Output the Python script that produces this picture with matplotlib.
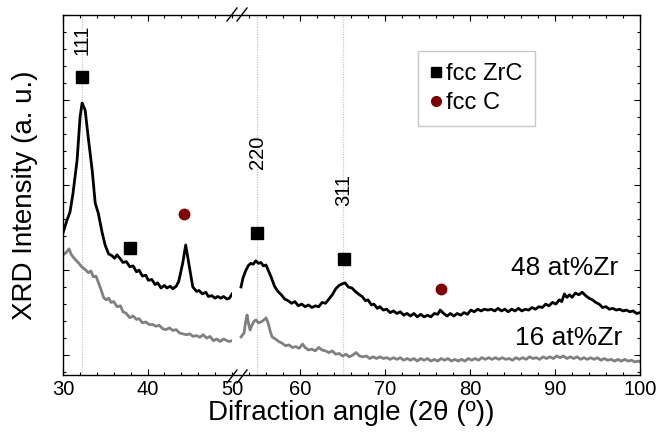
import matplotlib
matplotlib.use("Agg")
import matplotlib.pyplot as plt
from matplotlib.ticker import MultipleLocator
from matplotlib.lines import Line2D

plt.rcParams['font.family'] = ['Liberation Sans', 'DejaVu Sans']

# 48 at%Zr, left part (30-50)
x48_a = [30.0, 30.48, 30.83, 31.19, 31.67, 32.02, 32.26, 32.62, 32.98, 33.45, 33.81, 34.17,
         34.64, 35.0, 35.4, 35.8, 36.1, 36.4, 36.8, 37.1, 37.5, 37.9, 38.3, 38.7, 39.0, 39.4,
         39.8, 40.1, 40.5, 40.9, 41.2, 41.6, 42.0, 42.3, 42.7, 43.0, 43.4, 43.7, 44.17, 44.52,
         44.88, 45.36, 45.8, 46.1, 46.5, 46.9, 47.2, 47.6, 48.0, 48.3, 48.7, 49.0, 49.4, 49.7, 50.0]
y48_a = [8.24, 9.0, 9.47, 10.59, 12.53, 15.06, 15.88, 15.47, 13.88, 11.94, 10.0, 9.41,
         8.24, 7.5, 7.0, 6.9, 6.75, 6.95, 6.7, 6.5, 6.55, 6.25, 6.3, 5.95, 6.05, 5.7,
         5.75, 5.45, 5.5, 5.2, 5.3, 5.0, 5.15, 5.0, 5.1, 4.95, 5.1, 5.4, 6.47, 7.53,
         6.47, 5.06, 4.8, 4.85, 4.65, 4.75, 4.5, 4.55, 4.4, 4.5, 4.4, 4.5, 4.35, 4.4, 4.65]

# 48 at%Zr, right part (52-100)
x48_b = [53.06, 53.3, 53.6, 53.9, 54.2, 54.5, 54.8, 55.1, 55.4, 55.7, 56.0, 56.3, 56.6,
         57.0, 57.4, 57.8, 58.2, 58.6, 59.0, 59.4, 59.8, 60.2, 60.6, 61.0, 61.4, 61.8, 62.2,
         62.6, 63.0, 63.4, 63.8, 64.2, 64.6, 65.0, 65.3, 65.7, 66.1, 66.4, 66.6, 67.0, 67.3,
         67.7, 68.0, 68.4, 68.7, 69.1, 69.4, 69.8, 70.2, 70.6, 71.0, 71.4, 71.8, 72.2, 72.6,
         73.0, 73.4, 73.8, 74.2, 74.6, 75.0, 75.4, 75.8, 76.2, 76.5, 76.9, 77.3, 77.7, 78.1,
         78.5, 78.9, 79.3, 79.7, 80.1, 80.5, 80.9, 81.3, 81.7, 82.1, 82.5, 82.9, 83.3, 83.7,
         84.1, 84.5, 84.9, 85.3, 85.7, 86.1, 86.5, 86.9, 87.3, 87.7, 88.1, 88.5, 88.9, 89.3,
         89.7, 90.1, 90.5, 90.8, 91.1, 91.4, 91.7, 92.0, 92.4, 92.8, 93.2, 93.6, 94.0, 94.4,
         94.8, 95.2, 95.6, 96.0, 96.4, 96.8, 97.2, 97.6, 98.0, 98.4, 98.8, 99.2, 99.6, 100.0]
y48_b = [5.06, 5.6, 6.0, 6.3, 6.45, 6.4, 6.6, 6.45, 6.5, 6.3, 6.35, 6.0, 5.65,
         5.1, 4.8, 4.6, 4.35, 4.25, 4.1, 4.2, 3.95, 4.05, 3.9, 4.0, 3.85, 3.95, 3.9,
         4.15, 4.1, 4.35, 4.6, 4.95, 5.15, 5.25, 5.3, 5.05, 5.0, 4.85, 4.76, 4.6, 4.5,
         4.25, 4.3, 4.0, 4.05, 3.8, 3.9, 3.7, 3.75, 3.55, 3.65, 3.5, 3.6, 3.4, 3.5,
         3.35, 3.5, 3.3, 3.45, 3.3, 3.4, 3.3, 3.5, 3.45, 3.7, 3.5, 3.35, 3.5, 3.35,
         3.5, 3.4, 3.55, 3.45, 3.7, 3.6, 3.75, 3.65, 3.75, 3.7, 3.75, 3.65, 3.8, 3.65,
         3.75, 3.6, 3.75, 3.65, 3.8, 3.65, 3.75, 3.7, 3.85, 3.75, 3.9, 3.85, 4.05, 3.95,
         4.15, 4.05, 4.3, 4.2, 4.65, 4.45, 4.6, 4.45, 4.7, 4.6, 4.75, 4.55, 4.4, 4.3,
         4.15, 4.05, 3.85, 3.9, 3.75, 3.8, 3.7, 3.75, 3.65, 3.7, 3.6, 3.65, 3.5, 3.55]

# 16 at%Zr, left part
x16_a = [30.0, 30.4, 30.71, 31.0, 31.4, 31.8, 32.2, 32.6, 33.0, 33.3, 33.6, 33.9, 34.17,
         34.5, 34.8, 35.1, 35.4, 35.7, 36.0, 36.4, 36.8, 37.1, 37.5, 37.9, 38.3, 38.7, 39.0,
         39.4, 39.8, 40.2, 40.6, 41.0, 41.4, 41.8, 42.2, 42.6, 43.0, 43.4, 43.8, 44.2, 44.6,
         45.0, 45.4, 45.8, 46.2, 46.6, 47.0, 47.4, 47.8, 48.2, 48.6, 49.0, 49.4, 49.7, 50.0]
y16_a = [6.94, 7.1, 7.3, 6.95, 6.7, 6.5, 6.25, 6.1, 5.9, 6.0, 5.65, 5.7, 5.35,
         4.9, 4.45, 4.3, 4.4, 4.15, 4.2, 3.9, 3.95, 3.6, 3.5, 3.25, 3.35, 3.15, 3.2,
         2.95, 3.0, 2.85, 2.85, 2.75, 2.8, 2.6, 2.55, 2.65, 2.5, 2.55, 2.35, 2.3, 2.25,
         2.3, 2.15, 2.2, 2.1, 2.25, 2.05, 2.15, 1.9, 2.0, 1.85, 2.0, 1.9, 1.85, 1.9]

# 16 at%Zr, right part
x16_b = [53.06, 53.42, 53.6, 53.77, 53.95, 54.12, 54.36, 54.6, 54.83, 55.1, 55.42, 55.7,
         56.01, 56.25, 56.5, 56.72, 57.1, 57.5, 57.9, 58.3, 58.7, 59.1, 59.5, 59.9, 60.3,
         60.6, 61.0, 61.4, 61.8, 62.2, 62.6, 63.0, 63.4, 63.8, 64.2, 64.6, 65.0, 65.4, 65.8,
         66.2, 66.6, 67.0, 67.4, 67.8, 68.2, 68.6, 69.0, 69.4, 69.8, 70.2, 70.6, 71.0, 71.4,
         71.8, 72.2, 72.6, 73.0, 73.4, 73.8, 74.2, 74.6, 75.0, 75.4, 75.8, 76.2, 76.6, 77.0,
         77.4, 77.8, 78.2, 78.6, 79.0, 79.4, 79.8, 80.2, 80.6, 81.0, 81.4, 81.8, 82.2, 82.6,
         83.0, 83.4, 83.8, 84.2, 84.6, 85.0, 85.4, 85.8, 86.2, 86.6, 87.0, 87.4, 87.8, 88.2,
         88.6, 89.0, 89.4, 89.8, 90.2, 90.6, 91.0, 91.4, 91.8, 92.2, 92.6, 93.0, 93.4, 93.8,
         94.2, 94.6, 95.0, 95.4, 95.8, 96.2, 96.6, 97.0, 97.4, 97.8, 98.2, 98.6, 99.0, 99.4,
         99.8, 100.0]
y16_b = [2.12, 2.35, 3.0, 3.41, 2.9, 2.53, 2.82, 3.05, 3.12, 2.95, 3.0, 3.1,
         3.24, 2.94, 2.45, 2.12, 2.0, 1.85, 1.75, 1.6, 1.65, 1.5, 1.55, 1.45, 1.7,
         1.5, 1.35, 1.4, 1.3, 1.5, 1.35, 1.3, 1.2, 1.3, 1.1, 1.15, 1.0, 1.1, 0.95,
         1.05, 1.2, 1.0, 0.95, 1.0, 0.85, 0.95, 0.85, 0.95, 0.85, 0.9, 0.8, 0.9, 0.8,
         0.9, 0.75, 0.85, 0.75, 0.85, 0.7, 0.85, 0.75, 0.85, 0.7, 0.8, 0.7, 0.85, 0.75,
         0.85, 0.7, 0.8, 0.7, 0.8, 0.7, 0.85, 0.75, 0.85, 0.75, 0.9, 0.8, 0.9, 0.8,
         0.9, 0.8, 0.9, 0.8, 0.85, 0.75, 0.9, 0.8, 0.9, 0.8, 0.95, 0.85, 0.9, 0.8,
         0.95, 0.85, 0.95, 0.85, 1.0, 0.9, 1.0, 0.85, 0.95, 0.85, 0.95, 0.8, 0.9, 0.8,
         0.9, 0.8, 0.9, 0.75, 0.85, 0.75, 0.8, 0.7, 0.8, 0.7, 0.8, 0.7, 0.75, 0.65,
         0.7, 0.65]

# phase markers
zrc_x = [32.26, 37.98, 54.95, 65.22]
zrc_y = [17.41, 7.35, 8.24, 6.71]
c_x = [44.29, 76.54]
c_y = [9.35, 4.94]

# reflections
hkl = ["111", "220", "311"]
hkl_x = [32.26, 54.95, 65.1]
hkl_y = [19.6, 13.0, 10.76]

fig = plt.figure(figsize=(6.58, 4.40), dpi=100)
l, b, h = 63/658, 65/440, 360/440
w1 = (232-63)/658
w2 = (640-232)/658
ax1 = fig.add_axes([l, b, w1, h])
ax2 = fig.add_axes([l+w1, b, w2, h], sharey=ax1)

for ax in (ax1, ax2):
    for s in ax.spines.values():
        s.set_linewidth(1.0)
    ax.xaxis.set_major_locator(MultipleLocator(10))
    ax.xaxis.set_minor_locator(MultipleLocator(2))
    ax.tick_params(which='both', direction='in', top=True, labelsize=14.5, width=0.8)
    ax.tick_params(which='major', length=4.5)
    ax.tick_params(which='minor', length=2.5)
    ax.tick_params(axis='y', labelleft=False, labelright=False)

ax1.spines['right'].set_visible(False)
ax2.spines['left'].set_visible(False)
ax1.tick_params(axis='y', which='both', left=True, right=False)
ax2.tick_params(axis='y', which='both', left=False, right=True)
ax1.yaxis.set_major_locator(MultipleLocator(5, offset=1.06))
ax1.yaxis.set_minor_locator(MultipleLocator(1, offset=0.06))

ax1.set_xlim(30, 50)
ax2.set_xlim(52, 100)
ax1.set_ylim(-0.12, 21.06)

vl = dict(color='#c8c8c8', ls=(0, (1, 1)), lw=0.9, zorder=1)
ax1.axvline(hkl_x[0], **vl)
ax2.axvline(hkl_x[1], **vl)
ax2.axvline(hkl_x[2], **vl)

ax1.plot(x16_a, y16_a, color='#808080', lw=2)
ax2.plot(x16_b, y16_b, color='#808080', lw=2)
ax1.plot(x48_a, y48_a, color='black', lw=2)
ax2.plot(x48_b, y48_b, color='black', lw=2)

for ax in (ax1, ax2):
    ax.plot(zrc_x, zrc_y, ls='none', marker='s', ms=8, color='black')
    ax.plot(c_x, c_y, ls='none', marker='o', ms=7.5, color='#800000')

ax1.text(hkl_x[0], hkl_y[0], hkl[0], rotation=90, ha='center', va='center', fontsize=14.5)
ax2.text(hkl_x[1], hkl_y[1], hkl[1], rotation=90, ha='center', va='center', fontsize=14.5)
ax2.text(hkl_x[2], hkl_y[2], hkl[2], rotation=90, ha='center', va='center', fontsize=14.5)

ax2.text(97.4, 6.18, "48 at%Zr", ha='right', va='center', fontsize=19)
ax2.text(97.9, 2.06, "16 at%Zr", ha='right', va='center', fontsize=19)

handles = [Line2D([], [], ls='none', marker='s', ms=7, color='black'),
           Line2D([], [], ls='none', marker='o', ms=7, color='#800000')]
leg = ax2.legend(handles, ["fcc ZrC", "fcc C"], loc='upper left', bbox_to_anchor=(0.456, 0.90),
                 borderaxespad=0, fontsize=17, handlelength=0.5, handletextpad=0.2,
                 labelspacing=0.3, borderpad=0.5, fancybox=False, framealpha=1)
leg.get_frame().set_edgecolor('#c8c8c8')
leg.get_frame().set_linewidth(1)

# break marks
for x0 in (227, 237):
    for y0 in (21, 383):
        fig.add_artist(Line2D([x0/658, (x0+10)/658], [1-y0/440, 1-(y0-13)/440],
                              color='black', lw=1))

fig.text(25/658, 1-195/440, "XRD Intensity (a. u.)", rotation=90, ha='center', va='center', fontsize=20)
fig.text(351/658, 1-413/440, "Difraction angle (2θ (º))", ha='center', va='center', fontsize=20)

fig.savefig("out.png", dpi=100)
